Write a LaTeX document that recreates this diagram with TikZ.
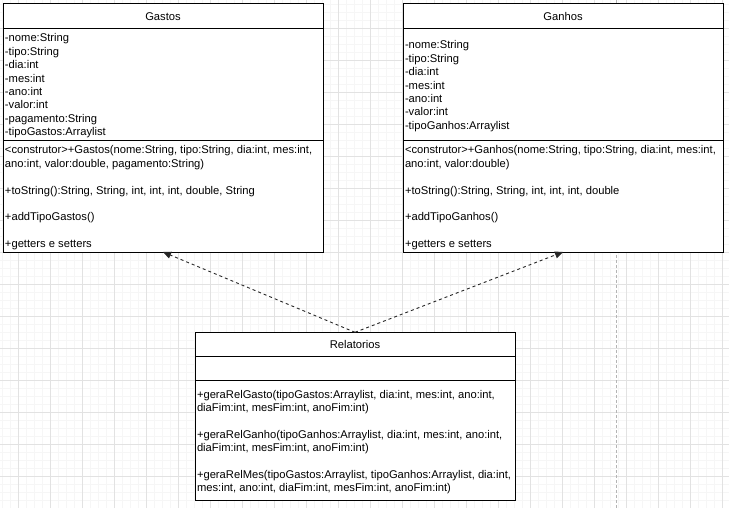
\documentclass[tikz,border=0pt]{standalone}
\usepackage{fontspec}
\setmainfont{Liberation Sans}
\usetikzlibrary{arrows.meta}
\definecolor{gridmajor}{HTML}{E2E2E2}
\definecolor{gridminor}{HTML}{F6F6F6}
\definecolor{pageline}{HTML}{B4B4B4}
\newcommand\fstrut{\rule{0pt}{9pt}}
\begin{document}
\begin{tikzpicture}[x=1pt,y=-1pt,
  umlbox/.style={draw=black,line width=1pt,fill=white,rectangle,inner sep=0pt,outer sep=0pt,anchor=north west},
  divider/.style={draw=black,line width=1pt},
  txt/.style={inner sep=0pt,outer sep=0pt,anchor=north west,align=left,font=\fontsize{11.2}{13.4}\selectfont},
  ttl/.style={inner sep=0pt,anchor=base,font=\fontsize{11.2}{13.4}\selectfont},
  dep/.style={draw=black!85,line width=0.9pt,dash pattern=on 3pt off 3pt,-{Triangle[length=8pt,width=7pt]}},
  minorline/.style={draw=gridminor,line width=0.8pt},
  majorline/.style={draw=gridmajor,line width=0.8pt}]
\useasboundingbox (0,0) rectangle (729,508);
\fill[white] (0,0) rectangle (729,508);
% grid
\foreach \x in {2.5,10.5,...,729} \draw[minorline] (\x,0) -- (\x,508);
\foreach \y in {4.3,12.3,...,508} \draw[minorline] (0,\y) -- (729,\y);
\foreach \x in {18.5,50.5,...,729} \draw[majorline] (\x,0) -- (\x,508);
\foreach \y in {28.3,60.3,...,508} \draw[majorline] (0,\y) -- (729,\y);
\draw[pageline,line width=0.8pt,dash pattern=on 3pt off 2pt] (616.7,0) -- (616.7,508);

% Gastos
\node[umlbox,minimum width=320pt,minimum height=248pt] (gastos) at (3,4) {};
\draw[divider] (3,28.3) -- (323,28.3);
\draw[divider] (3,140.3) -- (323,140.3);
\node[ttl] (gastosT) at (163,20.5) {Gastos};
\node[txt] (gastosA) at (5,33) {\fstrut-nome:String\\-tipo:String\\-dia:int\\-mes:int\\-ano:int\\-valor:int\\-pagamento:String\\-tipoGastos:Arraylist};
\node[txt] (gastosM) at (5,145) {\fstrut{<}construtor{>}+Gastos(nome:String, tipo:String, dia:int, mes:int,\\ano:int, valor:double, pagamento:String)\\\mbox{}\\+toString():String, String, int, int, int, double, String\\\mbox{}\\+addTipoGastos()\\\mbox{}\\+getters e setters};

% Ganhos
\node[umlbox,minimum width=320pt,minimum height=248pt] (ganhos) at (403,4) {};
\draw[divider] (403,28.3) -- (723,28.3);
\draw[divider] (403,140.3) -- (723,140.3);
\node[ttl] (ganhosT) at (563,20.5) {Ganhos};
\node[txt] (ganhosA) at (405,40) {\fstrut-nome:String\\-tipo:String\\-dia:int\\-mes:int\\-ano:int\\-valor:int\\-tipoGanhos:Arraylist};
\node[txt] (ganhosM) at (405,145) {\fstrut{<}construtor{>}+Ganhos(nome:String, tipo:String, dia:int, mes:int,\\ano:int, valor:double)\\\mbox{}\\+toString():String, String, int, int, int, double\\\mbox{}\\+addTipoGanhos()\\\mbox{}\\+getters e setters};

% Relatorios
\node[umlbox,minimum width=320pt,minimum height=167.7pt] (rel) at (195,332.3) {};
\draw[divider] (195,356.3) -- (515,356.3);
\draw[divider] (195,380.3) -- (515,380.3);
\node[ttl] (relT) at (355,348.5) {Relatorios};
\node[txt] (relM) at (197,389) {\fstrut+geraRelGasto(tipoGastos:Arraylist, dia:int, mes:int, ano:int,\\diaFim:int, mesFim:int, anoFim:int)\\\mbox{}\\+geraRelGanho(tipoGanhos:Arraylist, dia:int, mes:int, ano:int,\\diaFim:int, mesFim:int, anoFim:int)\\\mbox{}\\+geraRelMes(tipoGastos:Arraylist, tipoGanhos:Arraylist, dia:int,\\mes:int, ano:int, diaFim:int, mesFim:int, anoFim:int)};

% dependencies
\draw[dep] (rel.north) -- (gastos.south);
\draw[dep] (rel.north) -- (ganhos.south);
\end{tikzpicture}
\end{document}
